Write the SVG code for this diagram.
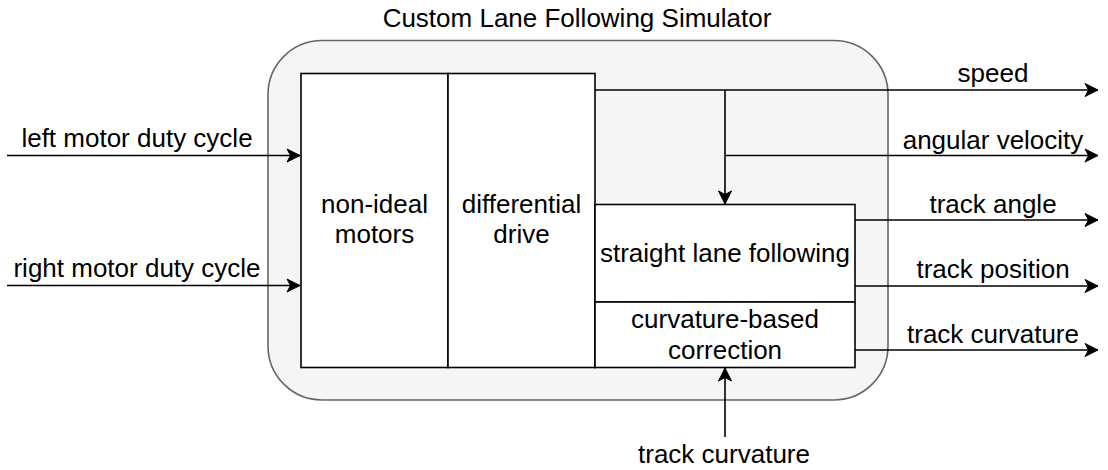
<svg xmlns="http://www.w3.org/2000/svg" width="1108" height="470" viewBox="0 0 1108 470">
  <style>
    text { font-family: "Liberation Sans", Arial, sans-serif; font-size: 26px; fill: #000; }
    .c { text-anchor: middle; }
    .block { fill: #ffffff; stroke: #000; stroke-width: 1.6; }
    .wire { fill: none; stroke: #000; stroke-width: 1.6; }
  </style>
  <defs>
    <marker id="arrow" markerUnits="userSpaceOnUse" markerWidth="16" markerHeight="16" viewBox="-14 -8 16 16" refX="0" refY="0" orient="auto">
      <path d="M0,0 L-13,-6.5 L-9.5,0 L-13,6.5 Z" fill="#000" stroke="#000" stroke-width="1"/>
    </marker>
  </defs>

  <!-- simulator container -->
  <g id="simulator">
    <rect x="268" y="40.5" width="620" height="359.5" rx="54" ry="54" fill="#f5f5f5" stroke="#666666" stroke-width="1.6"/>
    <text class="c" x="577" y="27">Custom Lane Following Simulator</text>
  </g>

  <g id="non-ideal-motors">
    <rect class="block" x="301" y="73.5" width="147" height="294"/>
    <text class="c" x="374.5" y="213">non-ideal</text>
    <text class="c" x="374.5" y="243">motors</text>
  </g>

  <g id="differential-drive">
    <rect class="block" x="448" y="73.5" width="147" height="294"/>
    <text class="c" x="521.5" y="213">differential</text>
    <text class="c" x="521.5" y="243">drive</text>
  </g>

  <g id="straight-lane-following">
    <rect class="block" x="595" y="204.5" width="260" height="97.5"/>
    <text class="c" x="725" y="262">straight lane following</text>
  </g>

  <g id="curvature-correction">
    <rect class="block" x="595" y="302" width="260" height="65.5"/>
    <text class="c" x="725" y="328">curvature-based</text>
    <text class="c" x="725" y="359">correction</text>
  </g>

  <!-- signal connectors -->
  <g id="connectors">
    <path class="wire" d="M7,155.5 L300,155.5" marker-end="url(#arrow)"/>
    <path class="wire" d="M7,285.5 L300,285.5" marker-end="url(#arrow)"/>
    <path class="wire" d="M595,90 L1098,90" marker-end="url(#arrow)"/>
    <path class="wire" d="M725,90 L725,204" marker-end="url(#arrow)"/>
    <path class="wire" d="M725,155.5 L1098,155.5" marker-end="url(#arrow)"/>
    <path class="wire" d="M855,220 L1098,220" marker-end="url(#arrow)"/>
    <path class="wire" d="M855,286 L1098,286" marker-end="url(#arrow)"/>
    <path class="wire" d="M855,350 L1098,350" marker-end="url(#arrow)"/>
    <path class="wire" d="M725,437 L725,368" marker-end="url(#arrow)"/>
  </g>

  <!-- signal labels -->
  <g id="labels">
    <text class="c" x="137" y="147">left motor duty cycle</text>
    <text class="c" x="137" y="277">right motor duty cycle</text>
    <text class="c" x="993" y="82">speed</text>
    <text class="c" x="993" y="149">angular velocity</text>
    <text class="c" x="993" y="213">track angle</text>
    <text class="c" x="993" y="278">track position</text>
    <text class="c" x="993" y="343">track curvature</text>
    <text class="c" x="724" y="463">track curvature</text>
  </g>
</svg>
